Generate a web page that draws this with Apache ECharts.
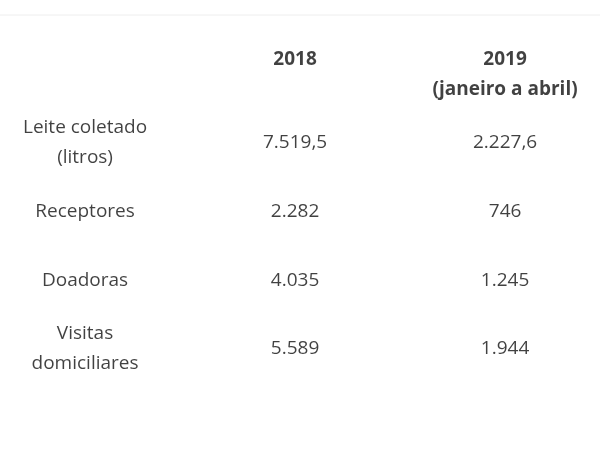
<!DOCTYPE html>
<html><head><meta charset="utf-8">
<script src="https://cdn.jsdelivr.net/npm/echarts@6/dist/echarts.min.js"></script>
<style>html,body{margin:0;background:#fff}#c{width:600px;height:450px}</style>
</head><body><div id="c"></div>
<script>
const columns = ['label', '2018', '2019'];
const headers = ['', '2018\n ', '2019\n(janeiro a abril)'];
const rows = ['Leite coletado\n(litros)', 'Receptores', 'Doadoras', 'Visitas\ndomiciliares'];
const values2018 = ['7.519,5', '2.282', '4.035', '5.589'];
const values2019 = ['2.227,6', '746', '1.245', '1.944'];

const yCats = ['header'].concat(rows.map((r, i) => 'r' + i));
const data = [];
headers.forEach((h, j) => { if (h) data.push({value: [j, 'header'], text: h, bold: true}); });
rows.forEach((r, i) => {
  data.push({value: [0, 'r' + i], text: r});
  data.push({value: [1, 'r' + i], text: values2018[i]});
  data.push({value: [2, 'r' + i], text: values2019[i]});
});
const chart = echarts.init(document.getElementById('c'));
chart.setOption({
  animation: false,
  grid: {left: 0, right: 0, top: 40, bottom: 67},
  xAxis: {type: 'value', min: -0.405, max: 2.452, show: false},
  yAxis: {type: 'category', data: yCats, inverse: true, show: false},
  graphic: [{type: 'line', shape: {x1: 0, y1: 15, x2: 600, y2: 15}, style: {stroke: '#eeeeee', lineWidth: 1}}],
  series: [{
    type: 'scatter', symbolSize: 0,
    data: data.map(d => ({
      value: d.value,
      label: {show: true, position: 'inside', formatter: d.text,
        fontFamily: 'Open Sans', fontSize: 19, color: '#111',
        fontWeight: d.bold ? 'bold' : 'normal', lineHeight: 30, align: 'center'}
    }))
  }]
});
</script></body></html>
